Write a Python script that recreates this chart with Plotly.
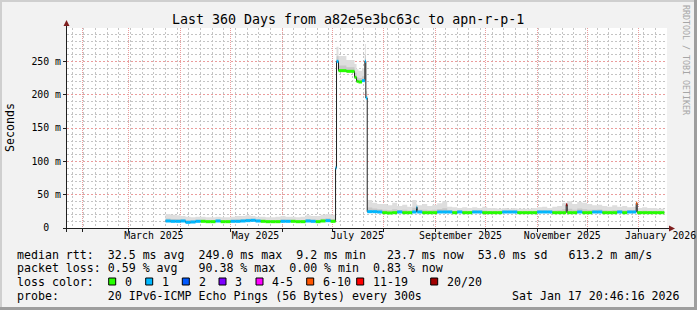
import plotly.graph_objects as go
import pandas as pd

# ---------------- data ----------------
START = "2025-01-22 20:46:16"
END = "2026-01-17 20:46:16"
DATA_END = "2026-01-16 06:00"

p1_dates = ["2025-03-23", "2025-03-26", "2025-03-29", "2025-04-01", "2025-04-04", "2025-04-07",
            "2025-04-10", "2025-04-13", "2025-04-16", "2025-04-19", "2025-04-22", "2025-04-25",
            "2025-04-28", "2025-05-01", "2025-05-04", "2025-05-07", "2025-05-10", "2025-05-13",
            "2025-05-16", "2025-05-19", "2025-05-22", "2025-05-25", "2025-05-28", "2025-05-31",
            "2025-06-03", "2025-06-06", "2025-06-09", "2025-06-12", "2025-06-15", "2025-06-18",
            "2025-06-21", "2025-06-24", "2025-06-27", "2025-06-30"]
p1_median = [10.5, 10.0, 10.0, 10.5, 8.5, 9.0, 10.0, 10.0, 9.5, 9.5, 10.5, 9.5, 9.5, 10.0, 10.0,
             10.5, 11.0, 11.5, 10.5, 10.0, 9.5, 9.5, 9.5, 10.0, 10.0, 10.0, 9.5, 9.5, 10.5, 10.0,
             9.5, 10.5, 11.0, 10.0]
p1_loss = [1, 1, 1, 1, 1, 1, 1, 0, 0, 0, 1, 0, 0, 1, 1, 1, 1, 1, 1, 0, 0, 0, 0, 1, 1, 0, 0, 0,
           1, 1, 0, 0, 1, 0]
p1_smoke = [21, 20, 19, 18, 17, 16, 17, 17, 16, 16, 17, 16, 16, 17, 18, 18, 19, 18, 17, 17, 16,
            16, 17, 18, 17, 17, 16, 17, 19, 18, 18, 20, 21, 20]

tr_dates = ["2025-07-03 00:00", "2025-07-03 14:00", "2025-07-04 18:00", "2025-07-09 12:00",
            "2025-07-14 09:00", "2025-07-15 14:00", "2025-07-16 18:00", "2025-07-18 21:00",
            "2025-07-20 14:00", "2025-07-21 04:00"]
tr_median = [90, 250, 236, 235, 226, 220, 219, 221, 250, 195]
tr_loss = [1, 1, 0, 0, 0, 0, 0, 1, 1, 1]
tr_smoke = [100, 272, 258, 252, 246, 238, 236, 240, 276, 205]

p3_dates = ["2025-07-22", "2025-07-25", "2025-07-28", "2025-07-31",
            "2025-08-03", "2025-08-06", "2025-08-09", "2025-08-12", "2025-08-15", "2025-08-18",
            "2025-08-21", "2025-08-24", "2025-08-27", "2025-08-30",
            "2025-09-02", "2025-09-05", "2025-09-08", "2025-09-11", "2025-09-14", "2025-09-17",
            "2025-09-20", "2025-09-23", "2025-09-26", "2025-09-29",
            "2025-10-02", "2025-10-05", "2025-10-08", "2025-10-11", "2025-10-14", "2025-10-17",
            "2025-10-20", "2025-10-23", "2025-10-26", "2025-10-29",
            "2025-11-01", "2025-11-04", "2025-11-07", "2025-11-10", "2025-11-13", "2025-11-16",
            "2025-11-19", "2025-11-22", "2025-11-25", "2025-11-28",
            "2025-12-01", "2025-12-04", "2025-12-07", "2025-12-10", "2025-12-13", "2025-12-16",
            "2025-12-19", "2025-12-22", "2025-12-25", "2025-12-28", "2025-12-31",
            "2026-01-03", "2026-01-06", "2026-01-09", "2026-01-12", "2026-01-15"]
p3_median = [24.5, 24.5, 24.0, 23.0, 22.5, 23.0, 24.0, 23.0, 23.0, 24.0, 24.0, 23.0, 23.0, 23.0,
             24.0, 24.0, 24.0, 23.0, 24.0, 23.0, 23.0, 24.0, 24.0, 23.0, 23.0, 23.0, 23.0, 24.0,
             24.0, 24.0, 23.0, 23.0, 23.0, 23.0, 24.0, 24.0, 24.0, 23.0, 23.0, 23.0, 23.0, 23.0,
             24.0, 23.0, 23.0, 24.0, 24.0, 23.0, 23.0, 23.0, 24.0, 23.0, 24.0, 24.0, 23.0, 23.0,
             23.0, 23.0, 23.0, 23.0]
p3_loss = [1, 1, 1, 0, 0, 0, 1, 0, 0, 1, 1, 0, 0, 0, 1, 1, 1, 0, 1, 0, 0, 1, 1, 0, 0, 0, 0, 1,
           1, 1, 0, 0, 0, 0, 1, 1, 1, 0, 0, 0, 0, 0, 1, 0, 0, 1, 1, 0, 0, 0, 1, 0, 1, 1, 0, 0,
           0, 0, 0, 0]
p3_smoke = [42, 38, 36, 36, 34, 38, 33, 35, 32, 42, 34, 36, 33, 35, 37, 40, 32, 31, 30, 31, 30,
            31, 30, 32, 30, 30, 29, 30, 29, 30, 29, 29, 29, 30, 31, 32, 30, 32, 33, 38, 40, 36,
            39, 38, 36, 34, 35, 33, 32, 34, 32, 33, 31, 32, 30, 31, 30, 30, 29, 29]

spike_dates = ["2025-08-20 14:00", "2025-11-18 09:00", "2025-12-30 09:00"]
spike_median = [31, 35, 37]
spike_loss = [1, 20, 6]
spike_smoke = [36, 38, 40]

loss_labels = ["0", "1", "2", "3", "4-5", "6-10", "11-19", "20/20"]
loss_colors = ["#26ff00", "#00b8ff", "#0059ff", "#7e00ff", "#ff00ff", "#ff5500", "#ff0000", "#a10000"]

y_tickvals = [0, 50, 100, 150, 200, 250]
y_ticktext = ["0\u00a0\u00a0", "50 m", "100 m", "150 m", "200 m", "250 m"]

x_label_dates = ["2025-03-16", "2025-05-16", "2025-07-16", "2025-09-16", "2025-11-16", "2026-01-14"]
x_label_text = ["March 2025", "May 2025", "July 2025", "September 2025", "November 2025", "January 2026"]

title_text = "Last 360 Days from a82e5e3bc63c to apn-r-p-1"
legend_line1 = "median rtt:  32.5 ms avg  249.0 ms max  9.2 ms min   23.7 ms now  53.0 ms sd   613.2 m am/s"
legend_line2 = "packet loss: 0.59 % avg   90.38 % max  0.00 % min  0.83 % now"
legend_line4 = "probe:       20 IPv6-ICMP Echo Pings (56 Bytes) every 300s"
stamp_text = "Sat Jan 17 20:46:16 2026"

# ---------------- assemble ----------------
df = pd.DataFrame({
    "t": pd.to_datetime(p1_dates + tr_dates + p3_dates + spike_dates, format="mixed"),
    "med": p1_median + tr_median + p3_median + spike_median,
    "loss": p1_loss + tr_loss + p3_loss + spike_loss,
    "smoke": p1_smoke + tr_smoke + p3_smoke + spike_smoke,
}).sort_values("t").reset_index(drop=True)
df["end"] = list(df["t"].iloc[1:]) + [pd.Timestamp(DATA_END)]


def loss_class(n):
    if n <= 3:
        return n
    if n <= 5:
        return 4
    if n <= 10:
        return 5
    if n <= 19:
        return 6
    return 7


df["cls"] = df["loss"].apply(loss_class)
df["dark"] = df["med"] + 0.35 * (df["smoke"] - df["med"])

sx = list(df["t"]) + [pd.Timestamp(DATA_END)]


def step(col):
    return list(df[col]) + [df[col].iloc[-1]]


FONT = "DejaVu Sans Mono"
fig = go.Figure()

# smoke
fig.add_trace(go.Scatter(x=sx, y=step("med"), mode="lines", line=dict(width=0, shape="hv"),
                         hoverinfo="skip", showlegend=False))
fig.add_trace(go.Scatter(x=sx, y=step("smoke"), mode="lines", line=dict(width=0, shape="hv"),
                         fill="tonexty", fillcolor="#dedede", hoverinfo="skip", showlegend=False))
fig.add_trace(go.Scatter(x=sx, y=step("med"), mode="lines", line=dict(width=0, shape="hv"),
                         hoverinfo="skip", showlegend=False))
fig.add_trace(go.Scatter(x=sx, y=step("dark"), mode="lines", line=dict(width=0, shape="hv"),
                         fill="tonexty", fillcolor="#c8c8c8", hoverinfo="skip", showlegend=False))
# thin median line
fig.add_trace(go.Scatter(x=sx, y=step("med"), mode="lines", line=dict(width=1, color="#202020", shape="hv"),
                         hoverinfo="skip", showlegend=False))
# colored median by loss
for c, col in enumerate(loss_colors):
    xs, ys = [], []
    for _, r in df[df["cls"] == c].iterrows():
        xs += [r["t"], r["end"], None]
        ys += [r["med"], r["med"], None]
    if xs:
        fig.add_trace(go.Scatter(x=xs, y=ys, mode="lines", line=dict(width=3, color=col),
                                 hoverinfo="skip", showlegend=False))
# empty traces so the overlay axes (labels / major grid) are drawn
fig.add_trace(go.Scatter(x=[START], y=[None], xaxis="x2", yaxis="y", mode="markers",
                         showlegend=False, hoverinfo="skip"))
fig.add_trace(go.Scatter(x=[START], y=[None], xaxis="x3", yaxis="y", mode="markers",
                         showlegend=False, hoverinfo="skip"))
fig.add_trace(go.Scatter(x=[START], y=[None], xaxis="x", yaxis="y2", mode="markers",
                         showlegend=False, hoverinfo="skip"))

# ---------------- layout ----------------
L, T, W, H = 67, 28, 600, 200
FW, FH = 697, 310


def PX(px):
    return (px - L) / W


def PY(py):
    return (T + H - py) / H


GRID = "#c4c4c4"
MGRID = "#eb9c9c"
DASH = "2px,2px"

fig.update_layout(
    width=FW, height=FH,
    margin=dict(l=L, r=FW - L - W, t=T, b=FH - T - H, pad=0, autoexpand=False),
    paper_bgcolor="#f2f2f2", plot_bgcolor="#ffffff",
    font=dict(family=FONT, color="#000000"),
    # weekly minor grid
    xaxis=dict(type="date", range=[START, END], showticklabels=False, ticks="",
               tickmode="linear", dtick=7 * 86400000, tick0="2025-01-26",
               showgrid=True, gridcolor=GRID, griddash=DASH, gridwidth=1, automargin=False,
               showline=False, zeroline=False, fixedrange=True),
    # month labels (centered mid-month)
    xaxis2=dict(type="date", range=[START, END], overlaying="x", anchor="y", side="bottom",
                tickmode="array", tickvals=x_label_dates, ticktext=x_label_text,
                ticklabeloverflow="allow", automargin=False,
                showgrid=False, ticks="", showline=False, zeroline=False, fixedrange=True,
                tickfont=dict(family=FONT, size=9.85, color="#000000")),
    # monthly major grid + ticks
    xaxis3=dict(type="date", range=[START, END], overlaying="x", anchor="y", side="bottom",
                tickmode="linear", dtick="M1", tick0="2025-01-01", showticklabels=False,
                ticks="outside", ticklen=3, tickcolor="#1f1f1f", tickwidth=1, automargin=False,
                showgrid=True, gridcolor=MGRID, griddash="1px,1px", gridwidth=1,
                showline=False, zeroline=False, fixedrange=True),
    # 10 m minor grid
    yaxis=dict(range=[0, 300], tickmode="linear", dtick=10, tick0=0, showticklabels=False, ticks="",
               showgrid=True, gridcolor=GRID, griddash=DASH, gridwidth=1, automargin=False,
               showline=False, zeroline=False, fixedrange=True),
    # 50 m major grid + labels
    yaxis2=dict(range=[0, 300], overlaying="y", anchor="x", side="left",
                tickmode="array", tickvals=y_tickvals, ticktext=y_ticktext,
                ticks="outside", ticklen=3, tickcolor="#1f1f1f", automargin=False,
                tickfont=dict(family=FONT, size=9.85, color="#000000"),
                showgrid=True, gridcolor=MGRID, griddash=DASH, gridwidth=1,
                showline=False, zeroline=False, fixedrange=True),
    showlegend=False,
)

shapes = []
# frame (3D border)
shapes.append(dict(type="rect", xref="paper", yref="paper", x0=PX(0), x1=PX(FW), y0=PY(0), y1=PY(2),
                   fillcolor="#cfcfcf", line=dict(width=0), layer="below"))
shapes.append(dict(type="rect", xref="paper", yref="paper", x0=PX(0), x1=PX(2), y0=PY(0), y1=PY(FH),
                   fillcolor="#cfcfcf", line=dict(width=0), layer="below"))
shapes.append(dict(type="rect", xref="paper", yref="paper", x0=PX(FW - 3), x1=PX(FW), y0=PY(0), y1=PY(FH),
                   fillcolor="#9e9e9e", line=dict(width=0), layer="below"))
shapes.append(dict(type="rect", xref="paper", yref="paper", x0=PX(0), x1=PX(FW), y0=PY(FH - 3), y1=PY(FH),
                   fillcolor="#9e9e9e", line=dict(width=0), layer="below"))
# axes
shapes.append(dict(type="line", xref="paper", yref="paper", x0=PX(66.5), x1=PX(66.5), y0=PY(232), y1=PY(25),
                   line=dict(color="#1f1f1f", width=1)))
shapes.append(dict(type="line", xref="paper", yref="paper", x0=PX(63), x1=PX(669), y0=PY(228.5), y1=PY(228.5),
                   line=dict(color="#1f1f1f", width=1)))
# arrows
shapes.append(dict(type="path", xref="paper", yref="paper",
                   path=f"M {PX(66.5)},{PY(20)} L {PX(63.5)},{PY(26)} L {PX(69.5)},{PY(26)} Z",
                   fillcolor="#7f1f1f", line=dict(width=0)))
shapes.append(dict(type="path", xref="paper", yref="paper",
                   path=f"M {PX(675)},{PY(228.5)} L {PX(669)},{PY(225.5)} L {PX(669)},{PY(231.5)} Z",
                   fillcolor="#7f1f1f", line=dict(width=0)))

# loss color legend squares
sq_left = [108.7, 145.7, 182.3, 219.0, 256.0, 306.7, 356.7, 430.7]
for xl, col in zip(sq_left, loss_colors):
    shapes.append(dict(type="rect", xref="paper", yref="paper", x0=PX(xl), x1=PX(xl + 7),
                       y0=PY(285), y1=PY(278), fillcolor=col, line=dict(color="#000000", width=1)))

fig.update_layout(shapes=shapes)

ann = []


def text(px, py, s, size, anchor="left", color="#000000", angle=0):
    ann.append(dict(xref="paper", yref="paper", x=PX(px), y=PY(py), text=s, showarrow=False,
                    xanchor=anchor, yanchor="middle", borderpad=0, textangle=angle,
                    font=dict(family=FONT, size=size, color=color)))


nb = lambda s: s.replace(" ", "\u00a0")
text(348, 19.5, title_text, 13.3, "center")
text(10, 128, "Seconds", 11.6, "center", angle=-90)
text(686, 60, nb("RRDTOOL / TOBI OETIKER"), 8.3, "center", color="#a6a6a6", angle=90)
text(16, 254.5, nb(legend_line1), 11.6)
text(16, 268.2, nb(legend_line2), 11.6)
text(16, 282, nb("loss color:"), 11.6)
for xl, lab in zip(sq_left, loss_labels):
    text(xl + 15.3, 282, lab, 11.6)
text(16, 295.6, nb(legend_line4), 11.6)
text(681, 295.6, nb(stamp_text), 11.6, "right")
fig.update_layout(annotations=ann)

fig.write_html("out.html")
